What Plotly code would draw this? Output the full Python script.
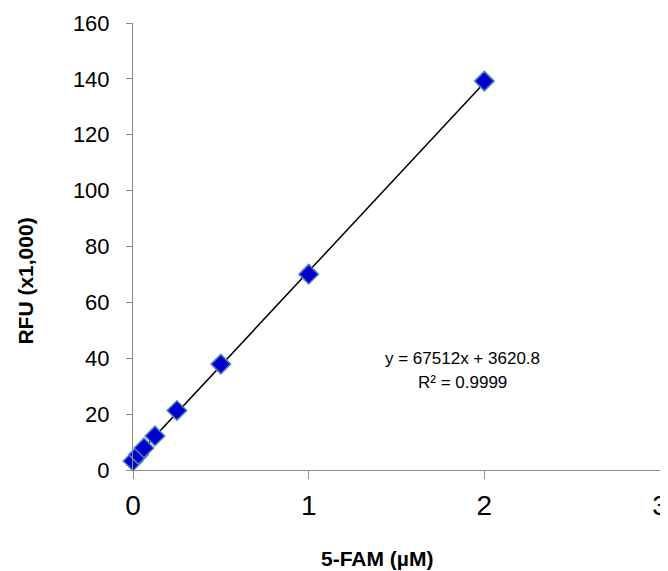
import plotly.graph_objects as go

conc_uM = [0, 0.03125, 0.0625, 0.125, 0.25, 0.5, 1, 2]
rfu_k = [3.2, 5.5, 7.9, 12.2, 21.3, 37.9, 70.1, 139.2]

slope = 67512
intercept = 3620.8
r2_text = "R² = 0.9999"
eq_text = "y = 67512x + 3620.8"
x_title = "<b>5-FAM (µM)</b>"
y_title = "<b>RFU (x1,000)</b>"

fit_x = [min(conc_uM), max(conc_uM)]
fit_y = [(slope * v + intercept) / 1000 for v in fit_x]

FONT = "Liberation Sans, Arial"

fig = go.Figure()
fig.add_trace(go.Scatter(
    x=fit_x, y=fit_y, mode="lines",
    line=dict(color="black", width=1.5), cliponaxis=False, hoverinfo="skip"))
fig.add_trace(go.Scatter(
    x=conc_uM, y=rfu_k, mode="markers",
    marker=dict(symbol="diamond", size=15, color="#0000CC",
                line=dict(color="#4F81BD", width=1.5)),
    cliponaxis=False))

fig.add_annotation(x=1.878, y=39.8, text=eq_text, showarrow=False,
                   xanchor="center", yanchor="middle",
                   font=dict(family=FONT, size=17, color="black"))
fig.add_annotation(x=1.878, y=31.5, text=r2_text, showarrow=False,
                   xanchor="center", yanchor="middle",
                   font=dict(family=FONT, size=17, color="black"))

fig.add_annotation(xref="paper", yref="paper", x=0.4627, y=-0.199,
                   xanchor="center", yanchor="middle",
                   text=x_title, showarrow=False,
                   font=dict(family=FONT, size=21, color="black"))
fig.add_annotation(xref="paper", yref="paper", x=-0.2037, y=0.423,
                   xanchor="center", yanchor="middle",
                   text=y_title, showarrow=False, textangle=-90,
                   font=dict(family=FONT, size=21, color="black"))

axis_common = dict(showgrid=False, zeroline=False, showline=True,
                   linecolor="#8c8c8c", linewidth=1, ticks="outside",
                   tickcolor="#8c8c8c", tickwidth=1, automargin=False)

fig.update_xaxes(range=[0, 3], tickvals=[0, 1, 2, 3], ticktext=["0", "1", "2", "3"],
                 ticklen=8, ticklabelstandoff=2,
                 tickfont=dict(family=FONT, size=28, color="black"),
                 **axis_common)
fig.update_yaxes(range=[0, 160], tickvals=list(range(0, 161, 20)),
                 ticklen=6, ticklabelstandoff=12,
                 tickfont=dict(family=FONT, size=22, color="black"),
                 **axis_common)

fig.update_layout(width=660, height=563, showlegend=False,
                  plot_bgcolor="white", paper_bgcolor="white",
                  margin=dict(l=125, r=8, t=15, b=101))

fig.write_html("out.html")
